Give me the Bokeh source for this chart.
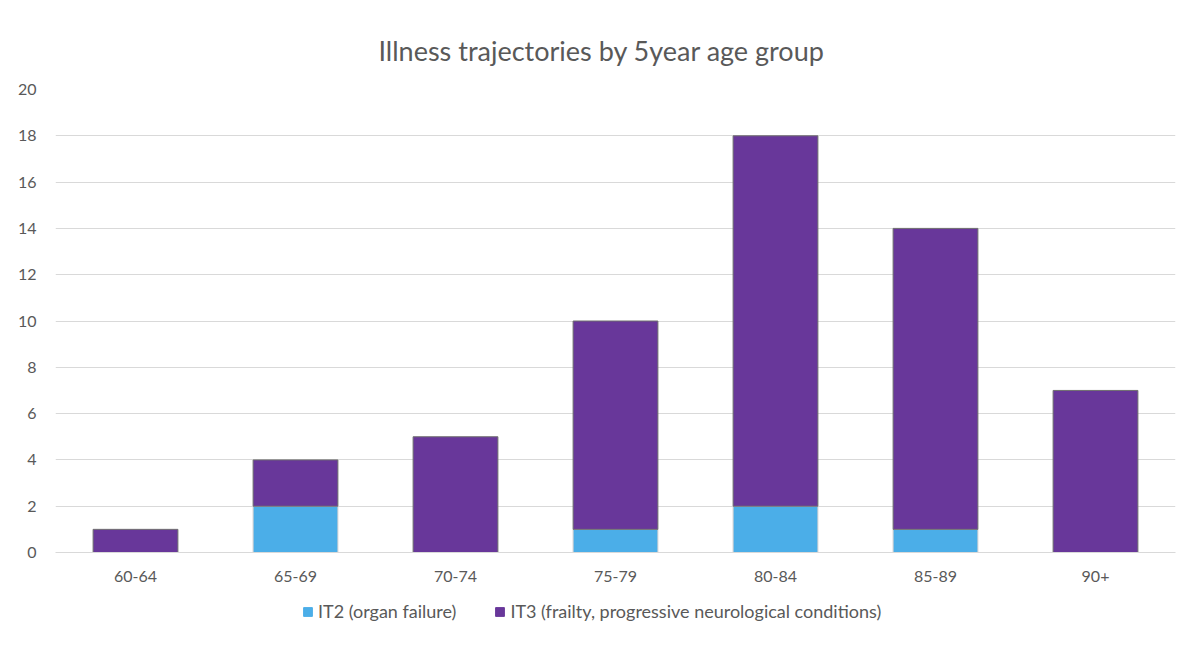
from bokeh.plotting import figure
from bokeh.layouts import column
from bokeh.models import ColumnDataSource, Legend, FixedTicker, Range1d
from bokeh.embed import file_html
from bokeh.resources import INLINE

age_groups = ["60-64", "65-69", "70-74", "75-79", "80-84", "85-89", "90+"]
it2 = [0, 2, 0, 1, 2, 1, 0]
it3 = [1, 2, 5, 9, 16, 13, 7]
series = ["it2", "it3"]
series_labels = ["IT2 (organ failure)", "IT3 (frailty, progressive neurological conditions)"]
colors = ["#4BAEE8", "#68379A"]
y_ticks = [0, 2, 4, 6, 8, 10, 12, 14, 16, 18, 20]

src = ColumnDataSource(dict(age=age_groups, it2=it2, it3=it3))

FONT = "Lato"
GREY = "#595959"

p = figure(x_range=age_groups, y_range=Range1d(0, 20),
           frame_width=1120, frame_height=463, output_backend="svg", toolbar_location=None,
           min_border_left=55, min_border_right=17, min_border_top=89, min_border_bottom=40)

p.title.text = "Illness trajectories by 5year age group"
p.title.align = "left"
p.title.offset = 323
p.title.text_font = FONT
p.title.text_font_size = "27px"
p.title.text_font_style = "normal"
p.title.text_color = GREY
p.title.standoff = 45

rs = p.vbar_stack(series, x="age", width=0.53, source=src, color=colors,
                  line_color=["#d0d0d0", "#6f6f6f"], line_width=1)

p.outline_line_color = None
p.xgrid.grid_line_color = None
p.ygrid.grid_line_color = "#D9D9D9"
p.ygrid.grid_line_width = 1

p.yaxis.ticker = FixedTicker(ticks=y_ticks)
p.yaxis.axis_line_color = None
p.yaxis.major_tick_line_color = None
p.yaxis.minor_tick_line_color = None
p.yaxis.major_label_text_font = FONT
p.yaxis.major_label_text_font_size = "16px"
p.yaxis.major_label_text_color = GREY
p.yaxis.major_label_standoff = 13

p.xaxis.axis_line_color = "#D9D9D9"
p.xaxis.major_tick_line_color = None
p.xaxis.minor_tick_line_color = None
p.xaxis.major_label_text_font = FONT
p.xaxis.major_label_text_font_size = "16px"
p.xaxis.major_label_text_color = GREY
p.xaxis.major_label_standoff = 12

# legend strip: same series drawn outside of its visible y-range, only the legend shows
leg = figure(x_range=age_groups, y_range=Range1d(100, 101), width=1192, height=45,
             output_backend="svg", toolbar_location=None, min_border=0)
leg.axis.visible = False
leg.grid.visible = False
leg.outline_line_color = None
lrs = leg.vbar_stack(series, x="age", width=0.53, source=src, color=colors,
                     line_color=colors, line_width=1)

legend = Legend(items=[(series_labels[i], [lrs[i]]) for i in range(2)],
                orientation="horizontal", location=(247, 15),
                label_text_font=FONT, label_text_font_size="18px", label_text_color=GREY,
                label_height=18,
                glyph_width=11, glyph_height=11, spacing=38, label_standoff=5,
                border_line_color=None, background_fill_alpha=0, margin=0, padding=4)
leg.add_layout(legend, "center")

layout = column(p, leg, spacing=0)
open("out.html", "w").write(file_html(layout, INLINE))
